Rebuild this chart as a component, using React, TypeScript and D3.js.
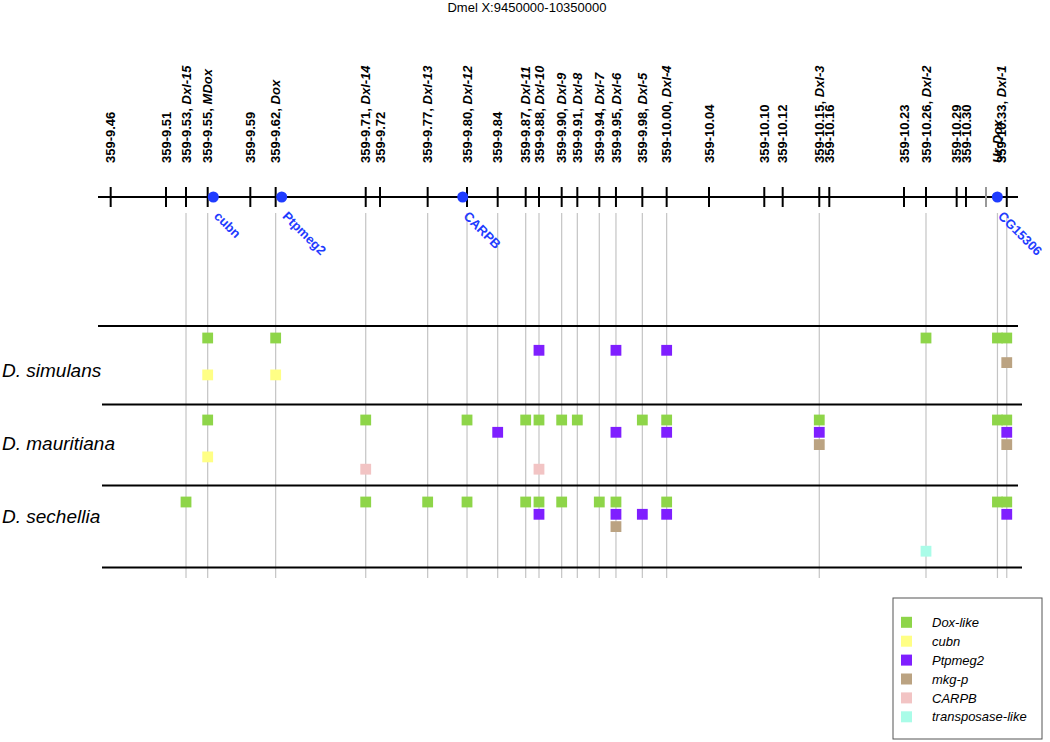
import React from 'react';
import * as d3 from 'd3';

const TITLE = 'Dmel X:9450000-10350000';
const REGION: [number, number] = [9450000, 10350000];

// Top-axis markers
const markerIds = ['9.46','9.51','9.53','9.55','9.59','9.62','9.71','9.72','9.77','9.80','9.84','9.87','9.88','9.90','9.91','9.94','9.95','9.98','10.00','10.04','10.10','10.12','10.15','10.16','10.23','10.26','10.29','10.30','Ur-Dox','10.33'];
const markerNums = ['359-9.46','359-9.51','359-9.53','359-9.55','359-9.59','359-9.62','359-9.71','359-9.72','359-9.77','359-9.80','359-9.84','359-9.87','359-9.88','359-9.90','359-9.91','359-9.94','359-9.95','359-9.98','359-10.00','359-10.04','359-10.10','359-10.12','359-10.15','359-10.16','359-10.23','359-10.26','359-10.29','359-10.30','','359-10.33'];
const markerGenes = ['','','Dxl-15','MDox','','Dox','Dxl-14','','Dxl-13','Dxl-12','','Dxl-11','Dxl-10','Dxl-9','Dxl-8','Dxl-7','Dxl-6','Dxl-5','Dxl-4','','','','Dxl-3','','','Dxl-2','','','Ur-Dox','Dxl-1'];
// locus position (bp) used for lines and squares
const markerPos = [9462400,9516500,9536100,9557300,9599000,9623800,9711900,9725900,9772500,9811000,9841000,9868400,9881400,9903600,9918900,9940400,9956700,9982500,10006300,10047700,10101800,10119800,10155600,10165400,10238500,10260000,10290000,10299100,10329900,10339000];
// tick position (bp) where it differs from locus
const markerTickPos = [9462400,9516500,9536100,9557300,9599000,9623800,9711900,9725900,9772500,9811000,9841000,9868400,9881400,9903600,9918900,9940400,9956700,9982500,10006300,10047700,10101800,10119800,10155600,10165400,10238500,10260000,10290000,10299100,10318700,10339000];
// label position (bp)
const markerLabelPos = [9462400,9516500,9536100,9557300,9599000,9623800,9711900,9725900,9772500,9811000,9841000,9868400,9881400,9903600,9918900,9940400,9956700,9982500,10006300,10047700,10101800,10119800,10155600,10165400,10238500,10260000,10290000,10299100,10329700,10333300];
const grayTicks = ['Ur-Dox'];

// genes (blue dots)
const geneNames = ['cubn','Ptpmeg2','CARPB','CG15306'];
const genePos = [9562800,9629700,9806800,10329800];

// loci with vertical guide lines
const columnIds = ['9.53','9.55','9.62','9.71','9.77','9.80','9.84','9.87','9.88','9.90','9.91','9.94','9.95','9.98','10.00','10.15','10.26','Ur-Dox','10.33'];

const species = ['D. simulans','D. mauritiana','D. sechellia'];
const categories = ['Dox-like','cubn','Ptpmeg2','mkg-p','CARPB','transposase-like'];
const categoryColors = ['#8ed549','#ffff85','#7f1fff','#bba382','#f2c4c4','#aafce8'];
const categoryLevel = [0, 3, 1, 2, 4, 4];

// hits[species][category] = list of locus ids
const simulansHits = [
  ['9.55','9.62','10.26','Ur-Dox','10.33'],
  ['9.55','9.62'],
  ['9.88','9.95','10.00'],
  ['10.33'],
  [],
  [],
];
const mauritianaHits = [
  ['9.55','9.71','9.80','9.87','9.88','9.90','9.91','9.98','10.00','10.15','Ur-Dox','10.33'],
  ['9.55'],
  ['9.84','9.95','10.00','10.15','10.33'],
  ['10.15','10.33'],
  ['9.71','9.88'],
  [],
];
const sechelliaHits = [
  ['9.53','9.71','9.77','9.80','9.87','9.88','9.90','9.94','9.95','10.00','Ur-Dox','10.33'],
  [],
  ['9.88','9.95','9.98','10.00','10.33'],
  ['9.95'],
  [],
  ['10.26'],
];
const hits = [simulansHits, mauritianaHits, sechelliaHits];

export default function App() {
  const W = 1050, H = 742;
  const x = d3.scaleLinear().domain(REGION).range([98, 1018]);
  const rowY = d3.scaleLinear().domain([0, 1]).range([338, 420]);
  const levelStep = 12.3;
  const sq = 10.8;
  const axisY = 197;
  const sepY = [326, 404.5, 485.5, 567.5];
  const sepX = [[98, 1018], [102, 1022], [102, 1018], [102, 1022]];
  const posOf = (id: string) => markerPos[markerIds.indexOf(id)];
  const font = 'Liberation Sans, Arial, Helvetica, sans-serif';
  const blue = '#1f3cff';

  const squares: { x: number; y: number; c: string; k: string }[] = [];
  hits.forEach((sp, si) => {
    sp.forEach((list, ci) => {
      list.forEach((id) => {
        squares.push({
          x: x(posOf(id)),
          y: rowY(si) + categoryLevel[ci] * levelStep,
          c: categoryColors[ci],
          k: `${si}-${ci}-${id}`,
        });
      });
    });
  });

  return (
    <svg width={W} height={H} style={{ position: 'absolute', left: 0, top: 0, background: '#fff' }} fontFamily={font}>
      <text x={527} y={12} textAnchor="middle" fontSize={13}>{TITLE}</text>

      {/* guide lines */}
      {columnIds.map((id) => (
        <line key={'g' + id} x1={x(posOf(id))} x2={x(posOf(id))} y1={213} y2={578} stroke="#c4c4c4" strokeWidth={1.2} />
      ))}

      {/* axis */}
      <line x1={x(REGION[0])} x2={x(REGION[1])} y1={axisY} y2={axisY} stroke="#000" strokeWidth={2} />
      {markerIds.map((id, i) => (
        <line key={'t' + id} x1={x(markerTickPos[i])} x2={x(markerTickPos[i])} y1={axisY - 10} y2={axisY + 10}
          stroke={grayTicks.includes(id) ? '#999' : '#000'} strokeWidth={2} />
      ))}
      {markerIds.map((id, i) => (
        <text key={'l' + id} transform={`translate(${x(markerLabelPos[i])},163) rotate(-90)`} dy="0.36em"
          fontSize={13} fontWeight="bold">
          {markerNums[i]}{markerNums[i] && markerGenes[i] ? ', ' : ''}
          {markerGenes[i] ? <tspan fontStyle="italic">{markerGenes[i]}</tspan> : null}
        </text>
      ))}

      {/* genes */}
      {geneNames.map((g, i) => (
        <g key={'gene' + g}>
          <circle cx={x(genePos[i])} cy={axisY} r={5.5} fill={blue} />
          <text transform={`translate(${x(genePos[i])},217) rotate(45)`} fontSize={13} fontWeight="bold" fill={blue}>{g}</text>
        </g>
      ))}

      {/* species separators */}
      {sepY.map((y, i) => (
        <line key={'s' + i} x1={sepX[i][0]} x2={sepX[i][1]} y1={y} y2={y} stroke="#000" strokeWidth={2} />
      ))}
      {species.map((s, i) => (
        <text key={s} x={2} y={377 + i * 73} fontSize={19} fontStyle="italic">{s}</text>
      ))}

      {squares.map((s) => (
        <rect key={s.k} x={s.x - sq / 2} y={s.y - sq / 2} width={sq} height={sq} fill={s.c} />
      ))}

      {/* legend */}
      <rect x={893} y={598} width={149} height={141} fill="#fff" stroke="#555" strokeWidth={1} />
      {categories.map((c, i) => (
        <g key={'lg' + c}>
          <rect x={901} y={622.3 + i * 18.9 - 5.5} width={11} height={11} fill={categoryColors[i]} />
          <text x={932} y={622.3 + i * 18.9} dy="0.36em" fontSize={13} fontStyle="italic">{c}</text>
        </g>
      ))}
    </svg>
  );
}
